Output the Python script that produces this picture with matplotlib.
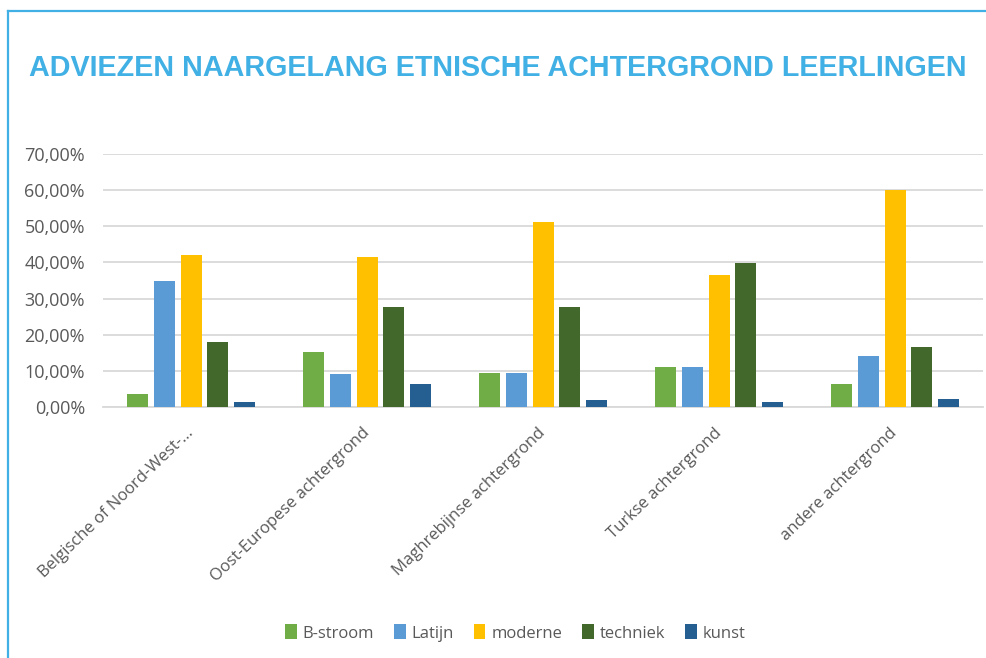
import matplotlib.pyplot as plt
import numpy as np
from matplotlib.lines import Line2D
from matplotlib.ticker import FuncFormatter

# ============================================================================#
#                                   DATA                                      #
# ============================================================================#
categories = ["Belgische of Noord-West-...", "Oost-Europese achtergrond",
              "Maghrebijnse achtergrond", "Turkse achtergrond",
              "andere achtergrond"]
series_names = ["B-stroom", "Latijn", "moderne", "techniek", "kunst"]

b_stroom = [3.6, 15.4, 9.5, 11.0, 6.5]
latijn = [34.8, 9.2, 9.5, 11.0, 14.2]
moderne = [42.1, 41.5, 51.2, 36.6, 60.1]
techniek = [18.0, 27.7, 27.7, 39.8, 16.6]
kunst = [1.6, 6.3, 1.9, 1.6, 2.2]

colors = ["#70ad47", "#5b9bd5", "#ffc000", "#43682b", "#255e91"]
title_blue = "#41b0e4"
text_gray = "#595959"

# ============================================================================#
#                                   PLOT                                      #
# ============================================================================#
fig = plt.figure(figsize=(9.87, 6.58), dpi=100)
ax = fig.add_axes([0.1044, 0.381, 0.8916, 0.3854])

x = np.arange(len(categories))
pitch = 0.152
width = 0.119
all_series = [b_stroom, latijn, moderne, techniek, kunst]

for i, values in enumerate(all_series):
    offset = (i - 2) * pitch
    ax.bar(x + offset, values, width, color=colors[i], label=series_names[i],
           zorder=3)

ax.set_xlim(-0.5, len(categories) - 0.5)
ax.set_ylim(0, 70)
ax.set_yticks(np.arange(0, 71, 10))
ax.yaxis.set_major_formatter(FuncFormatter(lambda v, p: f"{v:.2f}%".replace(".", ",")))
ax.grid(axis="y", color="#d9d9d9", linewidth=1.3, zorder=0)

for side in ["top", "right", "left"]:
    ax.spines[side].set_visible(False)
ax.spines["bottom"].set_color("#d9d9d9")
ax.spines["bottom"].set_linewidth(1.3)

ax.tick_params(axis="y", length=0, pad=13, labelsize=13, labelcolor=text_gray)
ax.tick_params(axis="x", length=0, pad=17, labelsize=12, labelcolor=text_gray)
for lab in ax.get_yticklabels():
    lab.set_family("Open Sans")

ax.set_xticks(x)
ax.set_xticklabels(categories, rotation=44, ha="right", va="center",
                   rotation_mode="anchor", family="Open Sans")

# Title
fig.text(0.0295, 1 - 68 / 658, "ADVIEZEN NAARGELANG ETNISCHE ACHTERGROND LEERLINGEN",
         fontsize=20.7, fontweight="bold", color=title_blue,
         family="Liberation Sans", ha="left", va="center")

# Legend
handles, labels = ax.get_legend_handles_labels()
leg = fig.legend(handles, labels, loc="center", bbox_to_anchor=(0.522, 1 - 633 / 658),
                 ncol=5, frameon=False, handlelength=0.7, handleheight=1.0,
                 handletextpad=0.35, columnspacing=1.2,
                 prop={"family": "Open Sans", "size": 12})
for t in leg.get_texts():
    t.set_color(text_gray)

# Blue frame on the left and top
fig.add_artist(Line2D([8 / 987, 8 / 987], [0, 1 - 11 / 658], transform=fig.transFigure,
                      color=title_blue, linewidth=1.6))
fig.add_artist(Line2D([8 / 987, 1], [1 - 11 / 658, 1 - 11 / 658], transform=fig.transFigure,
                      color=title_blue, linewidth=1.6))

fig.savefig("out.png", dpi=100)
